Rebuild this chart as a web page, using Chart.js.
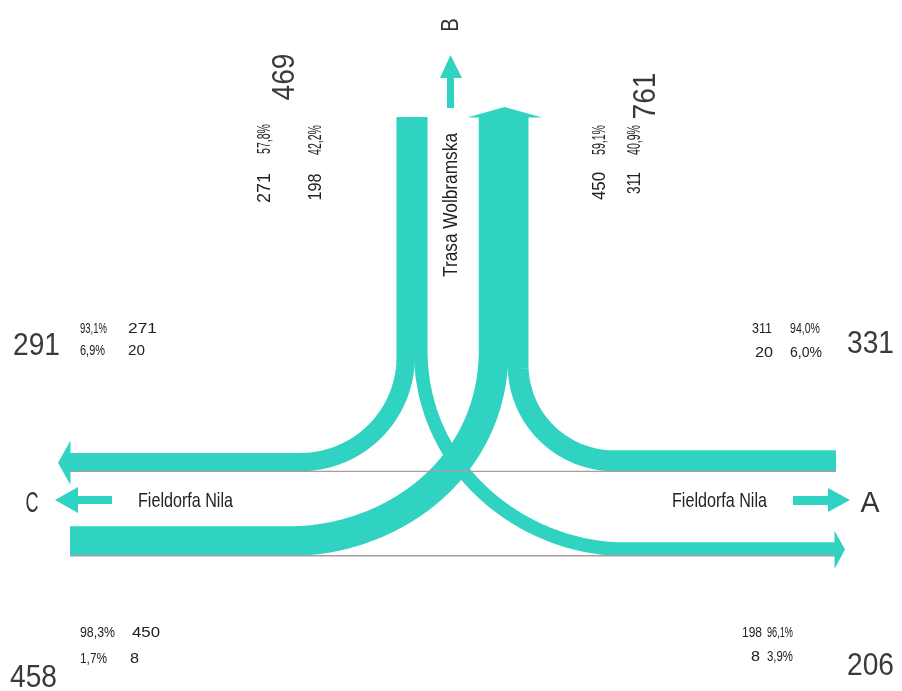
<!DOCTYPE html>
<html>
<head>
<meta charset="utf-8">
<script src="https://cdn.jsdelivr.net/npm/chart.js@4.4.0/dist/chart.umd.min.js"></script>
<style>
    html, body { margin: 0; padding: 0; background: #fff; }
    #wrap { width: 902px; height: 691px; position: relative; }
</style>
</head>
<body>
<div id="wrap"><canvas id="chart"></canvas></div>
<script>
// junction legs and turning volumes (from -> to)
const legs = ['A', 'B', 'C'];
const flowFrom = ['B', 'B', 'C', 'C', 'A', 'A'];
const flowTo = ['C', 'A', 'B', 'A', 'B', 'C'];
const flowVolume = [271, 198, 450, 8, 311, 20];
const streetNames = ['Fieldorfa Nila', 'Trasa Wolbramska'];

const TEAL = '#30d3c1';
const GREY = '#a89c9e';
const K = 0.064; // band width per vehicle

function vol(f, t) {
    for (let i = 0; i < flowFrom.length; i++) {
        if (flowFrom[i] === f && flowTo[i] === t) return flowVolume[i];
    }
    return 0;
}
const w = (f, t) => vol(f, t) * K;
const pct = (v, total) => (v / total * 100).toFixed(1).replace('.', ',') + '%';
const inTotal = leg => legs.filter(l => l !== leg).reduce((s, l) => s + vol(leg, l), 0);
const outTotal = leg => legs.filter(l => l !== leg).reduce((s, l) => s + vol(l, leg), 0);

// layout of the junction
const TOP = 117, LEFT = 70, RIGHT = 836;
const xIn = 397, xOut = 528, yUp = 472, yLow = 556;

const xBC = xIn + w('B', 'C') / 2;
const xBA = xIn + w('B', 'C') + w('B', 'A') / 2;
const xAB = xOut - w('A', 'B') / 2;
const xCB = xOut - w('A', 'B') - w('C', 'B') / 2;
const yAC = yUp - w('A', 'C') / 2;
const yBC = yUp - w('A', 'C') - w('B', 'C') / 2;
const yAB = yUp - w('A', 'C') - w('A', 'B') / 2;
const yCA = yLow - w('C', 'A') / 2;
const yCB = yLow - w('C', 'A') - w('C', 'B') / 2;
const yBA = yLow - w('C', 'A') - w('B', 'A') / 2;
const mid = (xBA + xCB) / 2;

function arc(cx, cy, r, a0, a1) {
    const pts = [];
    for (let i = 0; i <= 40; i++) {
        const a = a0 + (a1 - a0) * i / 40;
        pts.push({ x: cx + r * Math.cos(a), y: cy + r * Math.sin(a) });
    }
    return pts;
}
function bez(p0, p1, p2, p3) {
    const pts = [];
    for (let i = 0; i <= 50; i++) {
        const t = i / 50, u = 1 - t;
        pts.push({
            x: u*u*u*p0[0] + 3*u*u*t*p1[0] + 3*u*t*t*p2[0] + t*t*t*p3[0],
            y: u*u*u*p0[1] + 3*u*u*t*p1[1] + 3*u*t*t*p2[1] + t*t*t*p3[1]
        });
    }
    return pts;
}

const paths = {
    'B>C': [{ x: xBC, y: TOP }, ...arc(xBC - 105, yBC - 105, 105, 0, Math.PI / 2), { x: LEFT, y: yBC }],
    'A>B': [{ x: RIGHT, y: yAB }, ...arc(xAB + 96, yAB - 96, 96, Math.PI / 2, Math.PI), { x: xAB, y: TOP }],
    'C>B': [{ x: LEFT, y: yCB }, ...bez([290, yCB], [390, yCB], [xCB, 470], [xCB, 350]), { x: xCB, y: TOP }],
    'B>A': [{ x: xBA, y: TOP }, ...bez([xBA, 350], [xBA, 470], [2 * mid - 390, yBA], [2 * mid - 290, yBA]), { x: RIGHT - 1, y: yBA }],
    'C>A': [{ x: LEFT, y: yCA }, { x: RIGHT - 1, y: yCA }],
    'A>C': [{ x: RIGHT, y: yAC }, { x: LEFT, y: yAC }]
};

function px(chart, units) {
    const s = chart.scales.x;
    return Math.abs(s.getPixelForValue(units) - s.getPixelForValue(0));
}

const datasets = flowFrom.map((f, i) => {
    const thin = flowVolume[i] * K < 2;
    return {
        label: f + ' → ' + flowTo[i],
        data: paths[f + '>' + flowTo[i]],
        borderColor: thin ? GREY : TEAL,
        // +1px so neighbouring bands overlap without a seam
        borderWidth: c => thin ? 1.3 : px(c.chart, flowVolume[i] * K) + 1,
        borderCapStyle: 'butt',
        borderJoinStyle: 'round',
        tension: 0.0001,
        pointRadius: 0,
        fill: false,
        order: thin ? 0 : 1
    };
});

function poly(ctx, chart, pts) {
    const sx = chart.scales.x, sy = chart.scales.y;
    ctx.beginPath();
    pts.forEach((p, i) => {
        const X = sx.getPixelForValue(p[0]), Y = sy.getPixelForValue(p[1]);
        if (i === 0) ctx.moveTo(X, Y); else ctx.lineTo(X, Y);
    });
    ctx.closePath();
    ctx.fill();
}

function label(ctx, chart, str, x, y, o) {
    const sx = chart.scales.x, sy = chart.scales.y;
    ctx.save();
    ctx.font = o.size + 'px "Liberation Sans", Arial, sans-serif';
    ctx.fillStyle = o.color || '#222';
    ctx.translate(sx.getPixelForValue(x), sy.getPixelForValue(y));
    if (o.rot) ctx.rotate(-Math.PI / 2);
    const natural = ctx.measureText(str).width;
    ctx.scale(o.width ? o.width / natural : (o.sx || 1), 1);
    ctx.textAlign = o.align || 'left';
    ctx.textBaseline = o.base || 'alphabetic';
    ctx.fillText(str, 0, 0);
    ctx.restore();
}

const junctionDecor = {
    id: 'junctionDecor',
    afterDatasetsDraw(chart) {
        const ctx = chart.ctx;
        ctx.save();
        ctx.fillStyle = TEAL;
        // arrow heads on outgoing bands
        const bL = xOut - w('A', 'B') - w('C', 'B');
        poly(ctx, chart, [[bL - 12, TOP + 0.5], [xOut + 14, TOP + 0.5], [(bL + xOut) / 2 + 1, TOP - 10]]);
        const cT = yUp - w('A', 'C') - w('B', 'C');
        poly(ctx, chart, [[LEFT + 0.5, cT - 13], [LEFT + 0.5, yUp + 13], [LEFT - 12, (cT + yUp) / 2]]);
        const aT = yLow - w('C', 'A') - w('B', 'A');
        poly(ctx, chart, [[RIGHT - 1.5, aT - 12], [RIGHT - 1.5, yLow + 13], [RIGHT + 9, (aT + yLow) / 2]]);
        // direction arrows next to the leg names
        poly(ctx, chart, [[447, 108], [454, 108], [454, 78], [462, 78], [450.5, 55], [440, 78], [447, 78]]);
        poly(ctx, chart, [[112, 496], [112, 504], [78, 504], [78, 513], [55, 500], [78, 487], [78, 496]]);
        poly(ctx, chart, [[793, 496], [793, 505], [828, 505], [828, 512], [850, 500], [828, 488], [828, 496]]);
        ctx.restore();
    },
    afterDraw(chart) {
        const ctx = chart.ctx;
        const big = { size: 32, sx: 0.88, color: '#3a3a3a' };
        const bigRot = { size: 32, sx: 0.88, color: '#3a3a3a', rot: true, align: 'center', base: 'middle' };
        const rot = (width) => ({ size: 18, width: width, rot: true, align: 'center', base: 'middle' });

        // leg B (top)
        label(ctx, chart, String(inTotal('B')), 285, 77, bigRot);
        label(ctx, chart, String(vol('B', 'C')), 265, 188, rot(30));
        label(ctx, chart, pct(vol('B', 'C'), inTotal('B')), 265, 139, rot(30));
        label(ctx, chart, String(vol('B', 'A')), 316, 187, rot(27));
        label(ctx, chart, pct(vol('B', 'A'), inTotal('B')), 316, 140, rot(30));

        label(ctx, chart, String(outTotal('B')), 646, 96, bigRot);
        label(ctx, chart, String(vol('C', 'B')), 600, 186, rot(28));
        label(ctx, chart, pct(vol('C', 'B'), outTotal('B')), 600, 140, rot(30));
        label(ctx, chart, String(vol('A', 'B')), 635, 183, rot(22));
        label(ctx, chart, pct(vol('A', 'B'), outTotal('B')), 635, 140, rot(30));

        label(ctx, chart, 'B', 451, 25, { size: 24, sx: 0.85, rot: true, align: 'center', base: 'middle', color: '#333' });
        label(ctx, chart, streetNames[1], 451, 205, { size: 21, width: 144, rot: true, align: 'center', base: 'middle' });

        // leg C (left)
        label(ctx, chart, String(outTotal('C')), 13, 355, big);
        label(ctx, chart, pct(vol('B', 'C'), outTotal('C')), 80, 333, { size: 15, width: 27 });
        label(ctx, chart, String(vol('B', 'C')), 128, 333, { size: 15, width: 29 });
        label(ctx, chart, pct(vol('A', 'C'), outTotal('C')), 80, 355, { size: 15, width: 25 });
        label(ctx, chart, String(vol('A', 'C')), 128, 355, { size: 15, width: 17 });

        label(ctx, chart, String(inTotal('C')), 10, 687, big);
        label(ctx, chart, pct(vol('C', 'B'), inTotal('C')), 80, 637, { size: 15, width: 35 });
        label(ctx, chart, String(vol('C', 'B')), 132, 637, { size: 15, width: 28 });
        label(ctx, chart, pct(vol('C', 'A'), inTotal('C')), 80, 663, { size: 15, width: 27 });
        label(ctx, chart, String(vol('C', 'A')), 130, 663, { size: 15, width: 9 });

        label(ctx, chart, 'C', 32, 512, { size: 30, sx: 0.6, align: 'center', color: '#333' });
        label(ctx, chart, streetNames[0], 138, 507, { size: 21, width: 95 });

        // leg A (right)
        label(ctx, chart, String(inTotal('A')), 847, 353, big);
        label(ctx, chart, String(vol('A', 'B')), 772, 333, { size: 15, width: 20, align: 'right' });
        label(ctx, chart, pct(vol('A', 'B'), inTotal('A')), 790, 333, { size: 15, width: 30 });
        label(ctx, chart, String(vol('A', 'C')), 773, 357, { size: 15, width: 18, align: 'right' });
        label(ctx, chart, pct(vol('A', 'C'), inTotal('A')), 790, 357, { size: 15, width: 32 });

        label(ctx, chart, String(outTotal('A')), 847, 675, big);
        label(ctx, chart, String(vol('B', 'A')), 762, 637, { size: 15, width: 20, align: 'right' });
        label(ctx, chart, pct(vol('B', 'A'), outTotal('A')), 767, 637, { size: 15, width: 26 });
        label(ctx, chart, String(vol('C', 'A')), 760, 661, { size: 15, width: 9, align: 'right' });
        label(ctx, chart, pct(vol('C', 'A'), outTotal('A')), 767, 661, { size: 15, width: 26 });

        label(ctx, chart, 'A', 870, 512, { size: 30, sx: 0.95, align: 'center', color: '#333' });
        label(ctx, chart, streetNames[0], 672, 507, { size: 21, width: 95 });
    }
};

const chartCtx = document.getElementById('chart').getContext('2d');

const chart = new Chart(chartCtx, {
    type: 'line',
    data: { datasets: datasets },
    options: {
        responsive: true,
        maintainAspectRatio: false,
        animation: false,
        layout: { padding: 0 },
        plugins: {
            legend: { display: false },
            tooltip: { enabled: false }
        },
        scales: {
            x: { type: 'linear', min: 0, max: 902, display: false },
            y: { type: 'linear', min: 0, max: 691, reverse: true, display: false }
        }
    },
    plugins: [junctionDecor]
});
</script>
</body>
</html>
